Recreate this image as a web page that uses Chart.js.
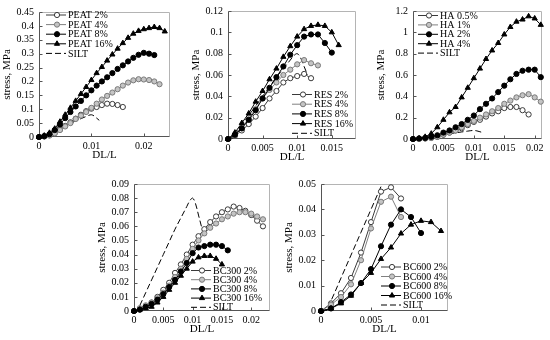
<!DOCTYPE html>
<html><head><meta charset="utf-8">
<script src="https://cdn.jsdelivr.net/npm/chart.js@4.4.1/dist/chart.umd.min.js"></script>
<style>
html,body{margin:0;padding:0;background:#fff;}
#wrap{position:relative;width:550px;height:340px;overflow:hidden;background:#fff;}
#wrap canvas{position:absolute;}
</style></head><body><div id="wrap"></div>
<script>
// ---- strain steps (DL/L) shared by the marker series ----
const strainSteps = [0, 0.001, 0.002, 0.003, 0.004, 0.005, 0.006, 0.007, 0.008, 0.009, 0.010, 0.011, 0.012, 0.013, 0.014, 0.015, 0.016, 0.017, 0.018, 0.019, 0.020, 0.021, 0.022, 0.023, 0.024];

// ---- SILT reference curve ----
const siltStrain = [0, 0.0005, 0.001, 0.002, 0.003, 0.004, 0.005, 0.006, 0.007, 0.008, 0.009, 0.0095, 0.010, 0.0105, 0.011, 0.0115];
const siltStress = [0, 0, 0.004, 0.013, 0.022, 0.031, 0.040, 0.049, 0.058, 0.066, 0.074, 0.078, 0.080, 0.076, 0.068, 0.060];

// ---- PEAT ----
const peatLabels = ['PEAT 2%', 'PEAT 4%', 'PEAT 8%', 'PEAT 16%'];
const peat2 = [0, 0.002, 0.007, 0.015, 0.027, 0.040, 0.053, 0.066, 0.080, 0.093, 0.102, 0.108, 0.115, 0.120, 0.119, 0.115, 0.108];
const peat4 = [0, 0.002, 0.005, 0.013, 0.025, 0.038, 0.050, 0.065, 0.077, 0.090, 0.105, 0.120, 0.135, 0.148, 0.160, 0.172, 0.185, 0.196, 0.204, 0.208, 0.207, 0.205, 0.200, 0.190];
const peat8 = [0, 0.003, 0.010, 0.025, 0.045, 0.068, 0.090, 0.110, 0.130, 0.150, 0.168, 0.185, 0.200, 0.215, 0.230, 0.245, 0.258, 0.272, 0.285, 0.296, 0.303, 0.300, 0.295];
const peat16 = [0, 0.005, 0.015, 0.030, 0.055, 0.080, 0.105, 0.130, 0.155, 0.180, 0.205, 0.230, 0.252, 0.275, 0.297, 0.318, 0.338, 0.357, 0.372, 0.382, 0.388, 0.392, 0.396, 0.392, 0.380];
const peatXTicks = [0, 0.01, 0.02];
const peatYTicks = [0, 0.05, 0.1, 0.15, 0.2, 0.25, 0.3, 0.35, 0.4, 0.45];

// ---- RES ----
const resLabels = ['RES 2%', 'RES 4%', 'RES 8%', 'RES 16%'];
const res2 = [0, 0.003, 0.008, 0.014, 0.021, 0.029, 0.038, 0.045, 0.053, 0.057, 0.059, 0.061, 0.057];
const res4 = [0, 0.004, 0.010, 0.020, 0.028, 0.038, 0.046, 0.053, 0.060, 0.065, 0.070, 0.074, 0.071, 0.069];
const res8 = [0, 0.004, 0.010, 0.018, 0.027, 0.038, 0.048, 0.058, 0.068, 0.079, 0.088, 0.096, 0.098, 0.098, 0.090, 0.081];
const res16 = [0, 0.006, 0.015, 0.024, 0.035, 0.045, 0.056, 0.066, 0.077, 0.087, 0.096, 0.103, 0.106, 0.107, 0.106, 0.100, 0.088];
const resXTicks = [0, 0.005, 0.01, 0.015];
const resYTicks = [0, 0.02, 0.04, 0.06, 0.08, 0.1, 0.12];

// ---- HA ----
const haLabels = ['HA 0.5%', 'HA 1%', 'HA 2%', 'HA 4%'];
const ha05 = [0, 0.002, 0.005, 0.010, 0.020, 0.040, 0.060, 0.080, 0.100, 0.130, 0.160, 0.180, 0.210, 0.240, 0.260, 0.290, 0.300, 0.300, 0.270, 0.230];
const ha1 = [0, 0.002, 0.005, 0.010, 0.020, 0.040, 0.060, 0.080, 0.110, 0.140, 0.170, 0.200, 0.230, 0.260, 0.290, 0.330, 0.360, 0.390, 0.410, 0.420, 0.390, 0.350];
const ha2 = [0, 0.005, 0.010, 0.020, 0.035, 0.060, 0.080, 0.110, 0.140, 0.180, 0.220, 0.280, 0.330, 0.380, 0.440, 0.500, 0.560, 0.610, 0.640, 0.650, 0.650, 0.580];
const ha4 = [0, 0.005, 0.020, 0.050, 0.110, 0.180, 0.250, 0.300, 0.390, 0.480, 0.570, 0.660, 0.750, 0.830, 0.900, 0.980, 1.050, 1.100, 1.120, 1.150, 1.130, 1.070];
const haXTicks = [0, 0.005, 0.01, 0.015, 0.02];
const haYTicks = [0, 0.2, 0.4, 0.6, 0.8, 1, 1.2];

// ---- BC300 ----
const bc300Labels = ['BC300 2%', 'BC300 4%', 'BC300 8%', 'BC300 16%'];
const bc300_2 = [0, 0.001, 0.003, 0.006, 0.010, 0.015, 0.020, 0.027, 0.033, 0.040, 0.047, 0.053, 0.058, 0.063, 0.067, 0.070, 0.072, 0.074, 0.073, 0.071, 0.068, 0.064, 0.060];
const bc300_4 = [0, 0.002, 0.004, 0.006, 0.009, 0.013, 0.018, 0.024, 0.030, 0.037, 0.044, 0.050, 0.055, 0.059, 0.062, 0.065, 0.067, 0.069, 0.070, 0.070, 0.069, 0.067, 0.065];
const bc300_8 = [0, 0.001, 0.003, 0.005, 0.008, 0.012, 0.017, 0.022, 0.028, 0.034, 0.041, 0.045, 0.046, 0.047, 0.047, 0.046, 0.043];
const bc300_16 = [0, 0.001, 0.002, 0.003, 0.006, 0.010, 0.015, 0.020, 0.025, 0.030, 0.035, 0.038, 0.039, 0.039, 0.037, 0.033];
const bc300XTicks = [0, 0.005, 0.01, 0.015, 0.02];
const bc300YTicks = [0, 0.01, 0.02, 0.03, 0.04, 0.05, 0.06, 0.07, 0.08, 0.09];

// ---- BC600 ----
const bc600Labels = ['BC600 2%', 'BC600 4%', 'BC600 8%', 'BC600 16%'];
const bc600_2 = [0, 0.003, 0.007, 0.013, 0.023, 0.035, 0.047, 0.0487, 0.0443];
const bc600_4 = [0, 0.0025, 0.0055, 0.0105, 0.020, 0.0325, 0.043, 0.045, 0.037];
const bc600_8 = [0, 0.001, 0.0035, 0.0065, 0.011, 0.0165, 0.0255, 0.034, 0.040, 0.037, 0.0307];
const bc600_16 = [0, 0.001, 0.003, 0.006, 0.011, 0.015, 0.0205, 0.025, 0.0305, 0.034, 0.0355, 0.035, 0.0315];
const bc600XTicks = [0, 0.005, 0.01];
const bc600YTicks = [0, 0.01, 0.02, 0.03, 0.04, 0.05];

const siltLabel = 'SILT';

// ---------------------------------------------------------------
const SERIF = '"Liberation Serif", "Times New Roman", Times, serif';
Chart.defaults.font.family = SERIF;
Chart.defaults.font.size = 10;
Chart.defaults.color = '#000';

const markerStyles = [
  {line: '#3a3a3a', bg: '#ffffff', border: '#3a3a3a', style: 'circle', r: 2.6},
  {line: '#808080', bg: '#c4c4c4', border: '#7a7a7a', style: 'circle', r: 2.6},
  {line: '#000000', bg: '#000000', border: '#000000', style: 'circle', r: 2.6},
  {line: '#000000', bg: '#000000', border: '#000000', style: 'triangle', r: 3.0}
];

function pairs(xs, ys) { return ys.map((y, i) => ({x: xs[i], y: y})); }
const fmt = v => String(+Number(v).toFixed(6));

const framePlugin = {
  id: 'frame',
  beforeDatasetsDraw(chart) {
    const {ctx, chartArea: a, scales} = chart;
    const l = Math.round(a.left) + 0.5, r = Math.round(a.right) - 0.5;
    const t = Math.round(a.top) + 0.5, b = Math.round(a.bottom) - 0.5;
    ctx.save();
    ctx.lineWidth = 1;
    ctx.strokeStyle = '#b4b4b4';
    ctx.beginPath();
    ctx.moveTo(l, t); ctx.lineTo(r, t); ctx.lineTo(r, b);
    ctx.stroke();
    ctx.strokeStyle = '#555555';
    ctx.beginPath();
    ctx.moveTo(l, t); ctx.lineTo(l, b); ctx.lineTo(r, b);
    scales.x.ticks.forEach(tk => {
      const px = Math.round(scales.x.getPixelForValue(tk.value)) + 0.5;
      ctx.moveTo(px, b); ctx.lineTo(px, b - 3);
    });
    scales.y.ticks.forEach(tk => {
      const py = Math.round(scales.y.getPixelForValue(tk.value)) + 0.5;
      ctx.moveTo(l, py); ctx.lineTo(l + 3, py);
    });
    ctx.stroke();
    ctx.restore();
  }
};

const keyPlugin = {
  id: 'keybox',
  afterDatasetsDraw(chart, args, opts) {
    if (!opts || opts.x === undefined) return;
    const ctx = chart.ctx;
    const x0 = opts.x - opts.cl, y0 = opts.y - opts.ct;
    ctx.save();
    chart.data.datasets.forEach((ds, i) => {
      const y = y0 + i * opts.dy;
      ctx.lineWidth = 1;
      ctx.strokeStyle = ds.borderColor;
      ctx.setLineDash(ds.borderDash || []);
      ctx.beginPath();
      ctx.moveTo(x0, y); ctx.lineTo(x0 + 20, y);
      ctx.stroke();
      ctx.setLineDash([]);
      if (ds.pointRadius > 0) {
        ctx.fillStyle = ds.pointBackgroundColor;
        ctx.strokeStyle = ds.pointBorderColor;
        ctx.lineWidth = 1;
        Chart.helpers.drawPoint(ctx, {pointStyle: ds.pointStyle, radius: ds.pointRadius, rotation: 0, borderWidth: 1}, x0 + 11, y);
      }
      ctx.fillStyle = '#000';
      ctx.font = '10px ' + SERIF;
      ctx.textAlign = 'left';
      ctx.textBaseline = 'middle';
      ctx.fillText(ds.label, x0 + 22, y + 0.5);
    });
    ctx.restore();
  }
};

const wrap = document.getElementById('wrap');

function makeChart(cfg) {
  const {L, R, T, B} = cfg.area;
  const cl = L - 39, ct = T - 7;
  const w = R - cl + 6, h = B - ct + 28;
  const cv = document.createElement('canvas');
  cv.width = w; cv.height = h;
  cv.style.left = cl + 'px'; cv.style.top = ct + 'px';
  cv.style.width = w + 'px'; cv.style.height = h + 'px';
  wrap.appendChild(cv);

  const datasets = cfg.series.map((ys, i) => {
    const st = markerStyles[i];
    return {
      label: cfg.labels[i], data: pairs(strainSteps, ys),
      borderColor: st.line, borderWidth: 1, tension: 0, fill: false,
      pointStyle: st.style, pointRadius: st.r, pointBackgroundColor: st.bg,
      pointBorderColor: st.border, pointBorderWidth: 1, clip: false, order: 4 - i
    };
  });
  datasets.push({
    label: siltLabel, data: pairs(siltStrain, siltStress),
    borderColor: '#000000', borderWidth: 1, borderDash: [6, 3], tension: 0.35,
    pointRadius: 0, fill: false, order: 5
  });

  new Chart(cv, {
    type: 'line',
    data: {datasets},
    plugins: [framePlugin, keyPlugin],
    options: {
      responsive: false, animation: false, devicePixelRatio: 1, events: [],
      layout: {padding: {left: 0, top: 7, right: 6, bottom: 0}},
      plugins: {
        legend: {display: false}, tooltip: {enabled: false},
        keybox: {x: cfg.key.x, y: cfg.key.y, dy: cfg.key.dy, cl: cl, ct: ct}
      },
      scales: {
        x: {
          type: 'linear', min: 0, max: cfg.xMax,
          grid: {display: false, drawTicks: false}, border: {display: false},
          afterBuildTicks: s => { s.ticks = cfg.xTicks.map(v => ({value: v})); },
          afterFit: s => { s.height = 28; },
          ticks: {padding: 3, maxRotation: 0, autoSkip: false, callback: v => fmt(v), font: {size: 10}},
          title: {display: true, text: 'DL/L', font: {size: 11}, padding: {top: 0, bottom: 3}}
        },
        y: {
          type: 'linear', min: 0, max: cfg.yMax,
          grid: {display: false, drawTicks: false}, border: {display: false},
          afterBuildTicks: s => { s.ticks = cfg.yTicks.map(v => ({value: v})); },
          afterFit: s => { s.width = 39; },
          ticks: {padding: 5, autoSkip: false, callback: v => fmt(v), font: {size: 10}},
          title: {display: true, text: 'stress, MPa', font: {size: 11}, padding: {top: 1, bottom: 0}}
        }
      }
    }
  });
}

makeChart({area: {L: 39, R: 170, T: 8, B: 137}, series: [peat2, peat4, peat8, peat16], labels: peatLabels,
  xMax: 0.025, yMax: 0.45, xTicks: peatXTicks, yTicks: peatYTicks, key: {x: 46, y: 15, dy: 9.6}});
makeChart({area: {L: 228, R: 356, T: 7, B: 139}, series: [res2, res4, res8, res16], labels: resLabels,
  xMax: 0.0185, yMax: 0.12, xTicks: resXTicks, yTicks: resYTicks, key: {x: 292, y: 94.5, dy: 9.7}});
makeChart({area: {L: 413, R: 542, T: 7, B: 139}, series: [ha05, ha1, ha2, ha4], labels: haLabels,
  xMax: 0.0212, yMax: 1.2, xTicks: haXTicks, yTicks: haYTicks, key: {x: 418, y: 15.5, dy: 9.4}});
makeChart({area: {L: 134, R: 270, T: 180, B: 311}, series: [bc300_2, bc300_4, bc300_8, bc300_16], labels: bc300Labels,
  xMax: 0.0232, yMax: 0.09, xTicks: bc300XTicks, yTicks: bc300YTicks, key: {x: 191, y: 270.5, dy: 9.2}});
makeChart({area: {L: 321, R: 448, T: 180, B: 311}, series: [bc600_2, bc600_4, bc600_8, bc600_16], labels: bc600Labels,
  xMax: 0.0127, yMax: 0.05, xTicks: bc600XTicks, yTicks: bc600YTicks, key: {x: 381, y: 267, dy: 9.5}});
</script></body></html>
